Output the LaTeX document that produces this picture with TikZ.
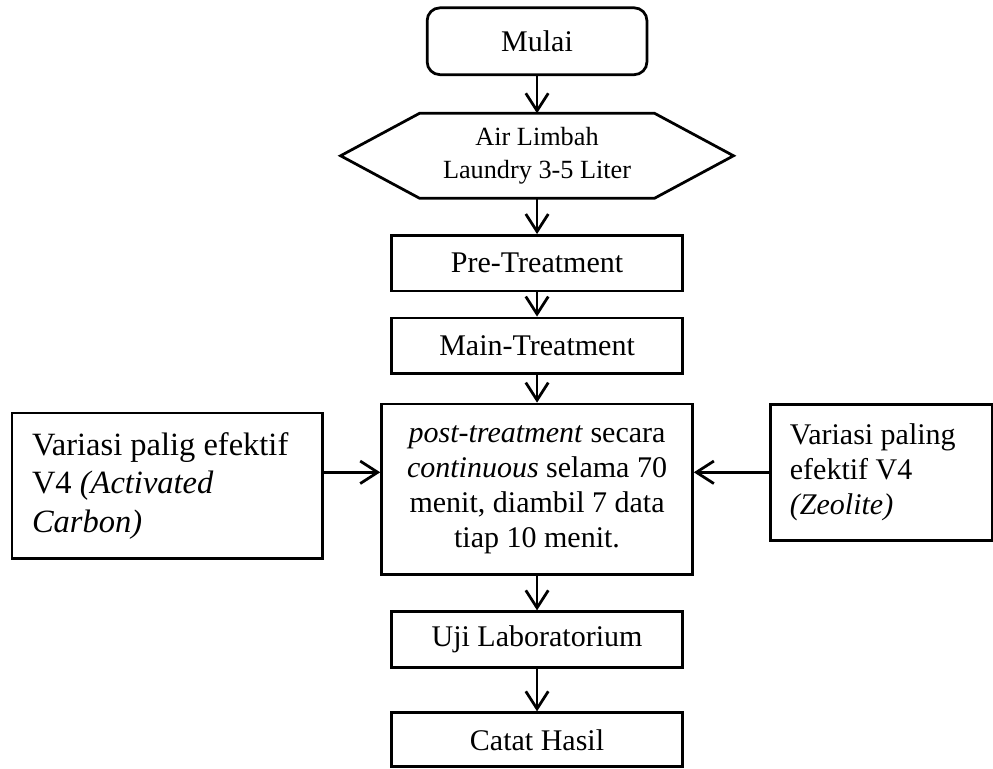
\documentclass[tikz,border=0pt]{standalone}
\usepackage{fontspec}
\setmainfont{Liberation Serif}
\usetikzlibrary{arrows.meta}

\begin{document}
\begin{tikzpicture}[scale=1,
    every node/.style={font=\fontsize{12}{14}\selectfont},
    box/.style={draw, line width=1.1pt, minimum width=4.1cm, minimum height=0.78cm},
    start/.style={box, rounded corners=0.18cm, minimum width=3.09cm, minimum height=0.94cm},
    note/.style={draw, line width=1.1pt, align=flush left},
    arrow/.style={line width=1.1pt, -{Straight Barb[length=7pt, width=9pt]}}]
    \useasboundingbox (0, 0) rectangle (13.96, -10.8);

    % Nodes
    \node[start] (mulai) at (7.55, -0.58) {Mulai};
    \node[minimum width=3.29cm, minimum height=1.18cm, align=center,
          font=\fontsize{10.5}{13.3}\selectfont] (limbah) at (7.55, -2.19) {Air Limbah\\Laundry 3-5 Liter};
    \node[box] (pre) at (7.55, -3.70) {Pre-Treatment};
    \node[box] (main) at (7.55, -4.86) {Main-Treatment};
    \node[box, minimum width=4.37cm, minimum height=2.40cm, align=center] (post) at (7.55, -6.88)
        {\textit{post-treatment} secara\\\textit{continuous} selama 70\\menit, diambil 7 data\\tiap 10 menit.};
    \node[note, text width=3.80cm, inner xsep=0.28cm, minimum height=2.05cm,
          font=\fontsize{13}{15.5}\selectfont] (karbon) at (2.35, -6.83)
        {Variasi palig efektif\\V4 \textit{(Activated}\\\textit{Carbon)}};
    \node[note, text width=2.57cm, inner xsep=0.27cm, minimum height=1.91cm] (zeolit) at (12.39, -6.64)
        {Variasi paling\\efektif V4\\\textit{(Zeolite)}};
    \node[box] (uji) at (7.55, -8.99) {Uji Laboratorium};
    \node[box, minimum height=0.76cm] (catat) at (7.55, -10.40) {Catat Hasil};

    % Hexagon round the input
    \draw[line width=1.1pt] ([xshift=-1.11cm]limbah.west) -- (limbah.north west) -- (limbah.north east)
        -- ([xshift=1.11cm]limbah.east) -- (limbah.south east) -- (limbah.south west) -- cycle;

    % Arrows
    \draw[arrow] (mulai) -- (limbah);
    \draw[arrow] (limbah) -- (pre);
    \draw[arrow] (pre) -- (main);
    \draw[arrow] (main) -- (post);
    \draw[arrow] (karbon.east |- zeolit.west) -- (post.west |- zeolit.west);
    \draw[arrow] (zeolit.west) -- (post.east |- zeolit.west);
    \draw[arrow] (post) -- (uji);
    \draw[arrow] (uji) -- (catat);
\end{tikzpicture}
\end{document}
